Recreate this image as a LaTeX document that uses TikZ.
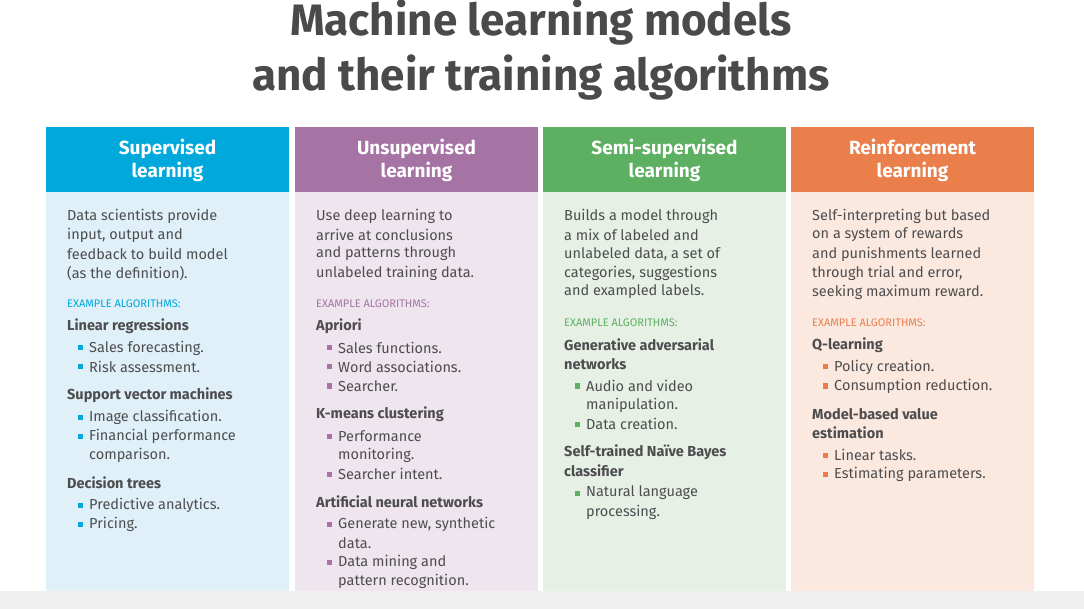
\documentclass[tikz,border=0pt]{standalone}
\usepackage{fontspec}
\setmainfont{Fira Sans}
\definecolor{ttl}{HTML}{4A4A4A}
\definecolor{txt}{HTML}{4D4D4F}
\definecolor{cA}{HTML}{00A8DC}\definecolor{bA}{HTML}{E0F0F8}
\definecolor{cB}{HTML}{A574A5}\definecolor{bB}{HTML}{EEE5EE}
\definecolor{cC}{HTML}{5DAF62}\definecolor{bC}{HTML}{E7F0E5}
\definecolor{cD}{HTML}{EA7F4C}\definecolor{bD}{HTML}{FBE9DF}
\begin{document}
\begin{tikzpicture}[x=1pt,y=-1pt,
  bodytxt/.style={anchor=west,inner sep=0pt,text=txt,font=\fontsize{14.5}{17}\selectfont},
  headtxt/.style={anchor=west,inner sep=0pt,text=txt,font=\fontsize{14.5}{17}\selectfont\bfseries},
  extxt/.style={anchor=west,inner sep=0pt,font=\fontsize{11}{13}\selectfont},
  hdr/.style={inner sep=0pt,text=white,font=\fontsize{19}{23}\selectfont\bfseries,align=center}]
\useasboundingbox (0,0) rectangle (1084,609);
\fill[white] (0,0) rectangle (1084,609);
\fill[black!6] (0,591) rectangle (1084,609);
\node[text=ttl,font=\fontsize{44}{50}\selectfont\bfseries,inner sep=0pt] (t1) at (541,23) {Machine learning models};
\node[text=ttl,font=\fontsize{44}{50}\selectfont\bfseries,inner sep=0pt] (t2) at (541,78) {and their training algorithms};
\newcommand\col[4]{% x, head color, body color, title
  \fill[#3] (#1,192) rectangle ++(243,399);
  \fill[#2] (#1,127) rectangle ++(243,65);
  \node[hdr] at (#1+121.5,160) {#4};}
\newcommand\tx[3]{\node[bodytxt] at (#1+21,#2) {#3};}
\newcommand\hx[3]{\node[headtxt] at (#1+21,#2) {#3};}
\newcommand\ex[3]{\node[extxt,text=#3] at (#1+21,#2) {EXAMPLE ALGORITHMS:};}
\newcommand\bx[4]{\fill[#4] (#1+32,#2-2.5) rectangle ++(5,5);\node[bodytxt] at (#1+43,#2) {#3};}
\newcommand\cx[3]{\node[bodytxt] at (#1+43,#2) {#3};}
\col{46}{cA}{bA}{Supervised\\learning}
\col{295}{cB}{bB}{Unsupervised\\learning}
\col{543}{cC}{bC}{Semi-supervised\\learning}
\col{791}{cD}{bD}{Reinforcement\\learning}
% column 1
\tx{46}{216}{Data scientists provide}
\tx{46}{235}{input, output and}
\tx{46}{254}{feedback to build model}
\tx{46}{273}{(as the definition).}
\ex{46}{304}{cA}
\hx{46}{326}{Linear regressions}
\bx{46}{348}{Sales forecasting.}{cA}
\bx{46}{367}{Risk assessment.}{cA}
\hx{46}{395}{Support vector machines}
\bx{46}{417}{Image classification.}{cA}
\bx{46}{436}{Financial performance}{cA}
\cx{46}{455}{comparison.}
\hx{46}{483}{Decision trees}
\bx{46}{505}{Predictive analytics.}{cA}
\bx{46}{524}{Pricing.}{cA}
% column 2
\tx{295}{216}{Use deep learning to}
\tx{295}{235}{arrive at conclusions}
\tx{295}{254}{and patterns through}
\tx{295}{273}{unlabeled training data.}
\ex{295}{304}{cB}
\hx{295}{326}{Apriori}
\bx{295}{348}{Sales functions.}{cB}
\bx{295}{367}{Word associations.}{cB}
\bx{295}{386}{Searcher.}{cB}
\hx{295}{414}{K-means clustering}
\bx{295}{436}{Performance}{cB}
\cx{295}{455}{monitoring.}
\bx{295}{474}{Searcher intent.}{cB}
\hx{295}{502}{Artificial neural networks}
\bx{295}{524}{Generate new, synthetic}{cB}
\cx{295}{543}{data.}
\bx{295}{562}{Data mining and}{cB}
\cx{295}{581}{pattern recognition.}
% column 3
\tx{543}{216}{Builds a model through}
\tx{543}{235}{a mix of labeled and}
\tx{543}{254}{unlabeled data, a set of}
\tx{543}{273}{categories, suggestions}
\tx{543}{292}{and exampled labels.}
\ex{543}{323}{cC}
\hx{543}{345}{Generative adversarial}
\hx{543}{364}{networks}
\bx{543}{386}{Audio and video}{cC}
\cx{543}{405}{manipulation.}
\bx{543}{424}{Data creation.}{cC}
\hx{543}{452}{Self-trained Naïve Bayes}
\hx{543}{471}{classifier}
\bx{543}{493}{Natural language}{cC}
\cx{543}{512}{processing.}
% column 4
\tx{791}{216}{Self-interpreting but based}
\tx{791}{235}{on a system of rewards}
\tx{791}{254}{and punishments learned}
\tx{791}{273}{through trial and error,}
\tx{791}{292}{seeking maximum reward.}
\ex{791}{323}{cD}
\hx{791}{345}{Q-learning}
\bx{791}{367}{Policy creation.}{cD}
\bx{791}{386}{Consumption reduction.}{cD}
\hx{791}{414}{Model-based value}
\hx{791}{433}{estimation}
\bx{791}{455}{Linear tasks.}{cD}
\bx{791}{474}{Estimating parameters.}{cD}
\end{tikzpicture}
\end{document}
